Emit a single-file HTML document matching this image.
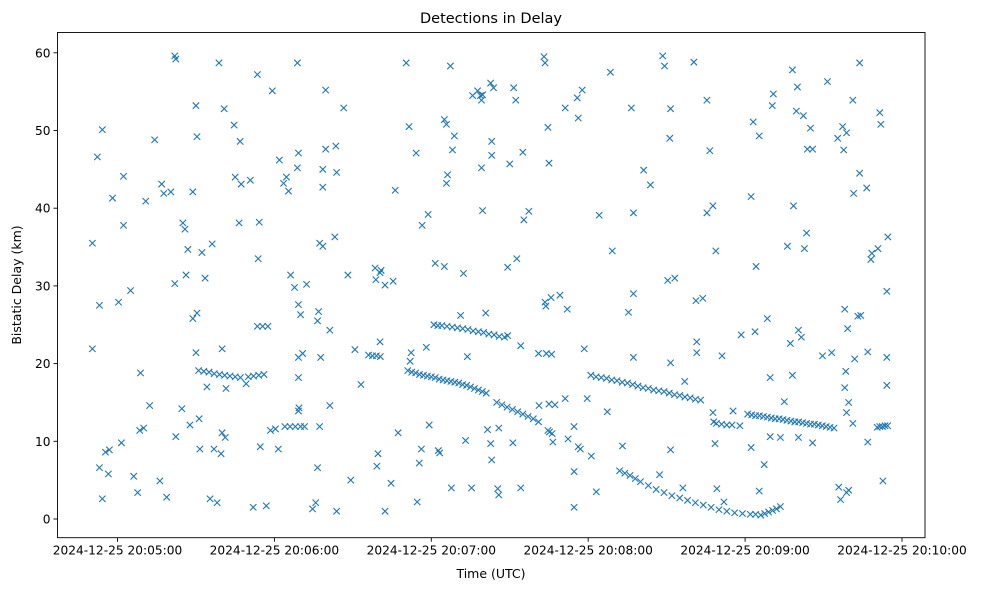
<!DOCTYPE html>
<html><head><meta charset="utf-8"><style>
html,body{margin:0;padding:0;background:#fff;}
svg{display:block;font-family:"DejaVu Sans","Liberation Sans",sans-serif;}
</style></head><body>
<svg id="chart" width="987" height="590" viewBox="0 0 987 590" xmlns="http://www.w3.org/2000/svg">
<rect x="0" y="0" width="987" height="590" fill="#fff"/>
<text x="491" y="23" text-anchor="middle" font-size="14.5" fill="#000">Detections in Delay</text>
<text x="491" y="578" text-anchor="middle" font-size="12.5" fill="#000">Time (UTC)</text>
<text transform="translate(21,285) rotate(-90)" text-anchor="middle" font-size="12.5" fill="#000">Bistatic Delay (km)</text>
<g id="marks"></g>
<g id="axes"></g>
</svg>
<script>
// seconds since 20:05:00 and delay (km)
const noiseT=[-9.6,-9.6,-7.7,-6.9,-5.8,-6.9,-5.8,-4.6,-3.5,-3.1,-1.9,0.4,1.5,2.3,2.3,5,6.2,7.7,8.5,8.8,10,10.8,12.3,14.2,16.2,16.9,17.7,18.8,20.4,21.9,21.9,22.3,22.3,24.6,25,25.8,26.2,26.9,27.7,28.8,28.8,30,30,30.4,30.4,31.2,31.5,32.3,33.5,34.2,35.4,36.2,36.9,38.1,38.8,39.6,40,40,40.8,41.2,41.5,44.6,45,46.5,46.9,47.3,49.2,50.8,51.9,53.5,53.8,54.2,54.6,56.9,58.5,59.2,60.4,61.5,61.9,63.5,64.6,65.4,66.2,67.7,68.8,69.2,68.8,69.2,70,69.2,69.2,69.2,69.4,70.8,72.3,74.6,75.8,76.5,76.5,76.9,77.3,77.3,77.7,78.5,78.5,78.5,79.6,79.6,81.2,81.2,83.1,83.5,83.8,83.8,86.5,88.1,89.2,90.8,93.1,98.5,98.8,99.2,99.6,100.4,100.4,100.8,102.3,102.3,104.6,105.4,106.2,107.3,110.4,111.5,111.9,112.3,114.2,114.6,115.4,116.2,116.5,118.1,118.8,119.2,121.5,122.7,123.2,125,125,125.8,125.8,126.2,127.3,127.7,128.1,128.8,131.2,132.3,133.1,133.8,135.4,135.8,137.7,138.8,139.2,139.2,139.6,139.6,140.8,141.5,142.7,142.7,143.1,143.1,143.1,143.8,145.4,145.8,145.8,149.2,149.2,150,151.2,151.5,152.3,152.7,154.2,154.2,155,155.4,157.3,161.2,163.1,163.5,163.5,163.8,164.6,165,165,164.6,165.2,166.2,166.5,165.8,167.3,169.2,171.2,171.2,172,172.3,174.6,174.6,174.6,175.8,176.2,176.2,177,177.7,178.5,179.6,181.2,183.1,184.2,187.3,188.5,189.2,193.1,195.4,196.5,197.3,197.3,197.3,201.2,203.8,207.3,208.5,209.2,210.4,211.2,211.5,211.5,211.5,213.1,216.2,216.9,220.4,221.2,221.5,221.5,223.8,225.4,225.4,226.5,227.7,227.7,228.5,228.8,231.2,229.2,231.9,235.4,238.5,242.3,242.3,243.1,243.8,244.2,245.4,245.4,247.3,248.5,249.6,249.6,250.4,250.8,253.5,255,256.2,257.3,258.1,258.1,258.5,259.6,260,260.4,260.4,261.5,262.3,262.7,263.5,263.8,265,265.8,265.8,269.6,271.5,273.1,275.4,275.8,276.5,277.3,277.7,278.1,278.1,278.5,278.8,278.8,278.8,279.2,279.6,279.6,281.2,281.2,281.5,281.9,283.1,283.8,283.8,284.2,286.9,286.5,286.9,288.1,288.5,290.8,291.5,291.9,292.7,294.2,294.2,294.2,294.6];
const noiseK=[35.5,21.9,46.6,27.5,50.1,6.6,2.6,8.6,5.8,8.9,41.3,27.9,9.8,44.1,37.8,29.4,5.5,3.4,11.4,18.8,11.7,40.9,14.6,48.8,4.9,43.1,41.9,2.8,42.1,30.3,59.6,59.2,10.6,14.2,38.1,37.3,31.4,34.7,12.1,42.1,25.8,21.4,53.2,49.2,26.5,12.9,9,34.3,31,17,2.6,35.4,9,2.1,58.7,8.4,11.1,21.9,52.8,10.5,16.8,50.7,44,38.1,48.6,43.1,17.4,43.6,1.5,57.2,33.5,38.2,9.3,1.7,11.4,55.1,11.6,9,46.2,43.2,44,42.2,31.4,29.8,58.7,47.1,45.2,27.6,26.3,18.2,20.8,13.9,14.3,21.3,30.2,1.3,2.1,6.6,25.5,26.7,11.9,35.5,20.8,45,42.7,35.1,55.2,47.6,24.3,14.6,36.3,48,44.6,1,52.9,31.4,5,21.8,17.3,32.3,30.8,6.8,8.4,31.7,22.8,32,30.1,1,4.6,30.6,42.3,11.1,58.7,50.5,20.3,21.4,47.1,2.2,7.2,9,37.8,22.1,39.2,12.1,32.9,8.8,8.5,32.5,51.4,43.2,50.8,44.3,58.3,4,47.5,49.3,26.2,31.6,10.1,20.9,4,54.5,55.1,54.5,45.2,53.9,54.6,39.7,26.5,11.5,9.7,56.1,46.8,48.6,7.6,55.5,3.9,3.1,11.7,23.6,32.4,45.7,9.8,55.5,53.9,33.5,22.3,4,47.2,38.5,39.6,14.6,59.5,58.7,27.9,27.4,50.4,45.8,14.8,11.4,11.2,11,9.9,28.5,14.7,28.8,52.9,15.5,27,10.3,11.9,1.5,6.1,54.2,51.6,9.3,9,55.2,21.9,15.5,8.1,3.5,39.1,13.8,57.5,34.5,9.4,26.6,52.9,29,39.4,20.8,44.9,43,5.7,59.6,58.3,30.7,49,52.8,20.1,8.9,31,4,17.7,58.8,28.1,22.8,21.4,28.4,53.9,39.4,47.4,40.3,13.7,9.7,34.5,21,3.9,2.2,13.9,23.7,41.5,9.2,51.1,24.1,32.5,49.3,3.6,7,25.8,10.6,18.2,53.2,54.7,10.5,15.1,35.1,22.6,57.8,18.5,40.3,52.5,55.6,24.3,10.5,23.4,51.9,34.8,36.8,47.6,50.3,47.6,9.8,21,56.3,21.4,49,4.1,2.5,50.5,47.5,16.9,27,19,49.7,13.7,3.4,24.5,3.7,15,53.9,12.3,41.9,20.6,26.1,58.7,44.5,26.2,21.5,42.6,9.9,33.4,34.2,34.8,52.3,50.8,4.9,29.3,20.8,17.2,36.3];
const trackT=[31,33,35,37,39,41,43,45,47,50,52,54,56, 64,66,68,70,71.5, 53.5,55.5,57.5, 96,97.5,99,100.5, 161,164,166,
111,112.5,114,115.5,117,118.5,120,121.5,123,124.5,126,127.5,129,130.5,132,133.5,135,136.5,138,139.5,141,
145,147,149,151,153,155,157,159,161,
121,122.5,124,126,128,130,132,134,136,138,140,142,144,146,148,
181,183,185,187,189,191,193,195,197,199,201,203,205,207,209,211,213,215,217,219,221,223,
228,229,231,233,235,238,
241,242.5,244,245.5,247,248.5,250,251.5,253,254.5,256,257.5,259,260.5,262,263.5,265,266.5,268,269.5,271,272.5,274,
290.5,291.5,292.5,293.5,294.5,
192,194,196,198,200,203,206,209,212,215,218,221,224,227,230,233,236,239,242,244,
246,247.5,249,250.5,252,253.5];
const trackK=[19.1,19,18.9,18.7,18.6,18.5,18.4,18.3,18.2,18.3,18.4,18.5,18.6, 11.9,11.9,11.9,11.9,11.9, 24.8,24.8,24.8, 21.1,21,21,20.9, 21.3,21.3,21.2,
19.1,18.9,18.8,18.6,18.5,18.4,18.3,18.2,18.0,17.9,17.8,17.7,17.6,17.5,17.3,17.2,17.0,16.8,16.6,16.4,16.2,
15.0,14.7,14.4,14.1,13.8,13.5,13.2,12.9,12.5,
25,24.9,24.9,24.8,24.7,24.6,24.5,24.4,24.2,24.1,24,23.8,23.7,23.5,23.4,
18.5,18.3,18.2,18.1,17.9,17.8,17.6,17.5,17.3,17.1,16.9,16.8,16.6,16.5,16.4,16.2,16.0,15.9,15.7,15.6,15.4,15.3,
12.5,12.3,12.2,12.1,12.1,12.0,
13.5,13.4,13.3,13.3,13.2,13.1,13.0,12.9,12.9,12.8,12.7,12.6,12.5,12.5,12.4,12.3,12.2,12.2,12.1,12.0,11.9,11.8,11.7,
11.8,11.9,11.9,12,12,
6.2,5.9,5.6,5.2,4.8,4.3,3.8,3.4,3.0,2.7,2.4,2.1,1.8,1.5,1.2,1.0,0.8,0.7,0.6,0.6,
0.5,0.7,0.9,1.1,1.3,1.6];
const xTicks=[0,60,120,180,240,300];
const xTickLabels=["2024-12-25 20:05:00","2024-12-25 20:06:00","2024-12-25 20:07:00","2024-12-25 20:08:00","2024-12-25 20:09:00","2024-12-25 20:10:00"];
const yTicks=[0,10,20,30,40,50,60];

const NS="http://www.w3.org/2000/svg";
const L=57.5,R=925,T=32.5,B=537.7;
const xs=s=>117.5+s*2.615;
const ys=k=>519-k*7.77;
const marks=document.getElementById('marks');
const axes=document.getElementById('axes');
function mk(tag,attrs,parent){const e=document.createElementNS(NS,tag);for(const k in attrs)e.setAttribute(k,attrs[k]);parent.appendChild(e);return e;}
const allT=noiseT.concat(trackT), allK=noiseK.concat(trackK);
for(let i=0;i<allT.length;i++){
  const x=xs(allT[i]),y=ys(allK[i]),d=3.2;
  const p=mk('path',{d:`M${x-d},${y-d}L${x+d},${y+d}M${x-d},${y+d}L${x+d},${y-d}`,stroke:'#1f77b4','stroke-width':'1.1',fill:'none'},marks);
  
  
}
const frame=mk('rect',{x:L,y:T,width:R-L,height:B-T,fill:'none',stroke:'#000','stroke-width':'0.9'},axes);


xTicks.forEach((s,i)=>{
  const x=xs(s);
  mk('line',{x1:x,x2:x,y1:B,y2:B+4,stroke:'#000','stroke-width':'0.9'},axes);
  const t=mk('text',{x:x,y:B+17,'text-anchor':'middle','font-size':'12.2',fill:'#000'},axes);
  t.textContent=xTickLabels[i];
  
  
});
yTicks.forEach(k=>{
  const y=ys(k);
  mk('line',{x1:L-4,x2:L,y1:y,y2:y,stroke:'#000','stroke-width':'0.9'},axes);
  const t=mk('text',{x:L-7,y:y+4.5,'text-anchor':'end','font-size':'12.2',fill:'#000'},axes);
  t.textContent=String(k);
  
  
});
</script>
</body></html>
